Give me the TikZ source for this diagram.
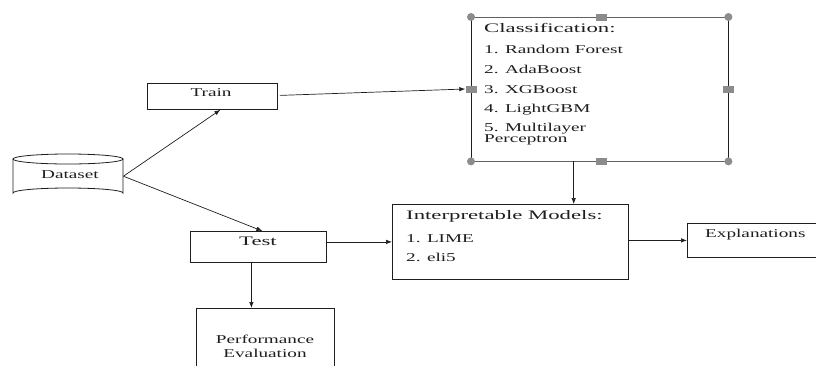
\documentclass[tikz,border=0pt]{standalone}
\usepackage{fontspec}
\setmainfont{Liberation Serif}[FakeStretch=1.6]
\newfontfamily\headfont{Liberation Serif}[FakeStretch=1.75]
\usetikzlibrary{arrows.meta,calc}
\definecolor{hnd}{HTML}{8C8C8C}
\definecolor{ink}{HTML}{1E1E1E}
\tikzset{
  box/.style={draw=ink,line width=0.8pt,inner sep=0pt,anchor=north west},
  txt/.style={inner sep=0pt,text=ink,font=\fontsize{12}{14}\selectfont},
  head/.style={inner sep=0pt,text=ink,font=\headfont\fontsize{13}{15}\selectfont},
  arr/.style={draw=ink,line width=0.7pt,-{Latex[length=6pt,width=4.5pt]}},
  hcirc/.style={circle,fill=hnd,minimum size=8pt,inner sep=0pt},
  hsq/.style={rectangle,fill=hnd,minimum width=11pt,minimum height=7pt,inner sep=0pt}
}
\begin{document}
\begin{tikzpicture}[x=1pt,y=-1pt]
\useasboundingbox (0,0) rectangle (816,365);
\clip (0,0) rectangle (816,365);
% Dataset (cylinder)
\node[inner sep=0pt,minimum width=110pt,minimum height=44pt,anchor=north west] (data) at (13,154) {};
\draw[ink,line width=0.8pt,fill=white] (13,159) -- (13,193) arc[start angle=180,end angle=360,x radius=55,y radius=5] -- (123,159);
\draw[ink,line width=0.8pt] (68,159) ellipse[x radius=55,y radius=5];
\node[txt,anchor=base] (datat) at (70,178) {Dataset};
% Train
\node[box,minimum width=130pt,minimum height=26pt] (train) at (147,83) {};
\node[txt,anchor=base] (traint) at (211,96) {Train};
% Test
\node[box,minimum width=136pt,minimum height=31pt] (test) at (190,231) {};
\node[head,anchor=base] (testt) at (258,245) {Test};
% Performance Evaluation
\node[box,minimum width=138pt,minimum height=70pt] (perf) at (196,308) {};
\node[txt,anchor=base] (perft1) at (265,343) {Performance};
\node[txt,anchor=base] (perft2) at (265,357) {Evaluation};
% Classification
\node[inner sep=0pt,minimum width=257pt,minimum height=144pt,anchor=north west] (cls) at (471,17) {};
\draw[hnd!70!black,line width=0.8pt] (cls.north west) -- (cls.north east);
\draw[hnd!70!black,line width=0.8pt] (cls.south west) -- (cls.south east);
\draw[ink,line width=0.9pt] (cls.north west) -- (cls.south west);
\draw[ink,line width=0.9pt] (cls.north east) -- (cls.south east);
\node[hcirc] (c1) at (cls.north west) {};
\node[hcirc] (c2) at (cls.north east) {};
\node[hcirc] (c3) at (cls.south west) {};
\node[hcirc] (c4) at (cls.south east) {};
\node[hsq] (sqt) at (601,17) {};
\node[hsq] (sqb) at (601,161) {};
\node[hsq] (sql) at (471,89) {};
\node[hsq] (sqr) at (728,89) {};
\node[head,anchor=base west] (cl0) at (484,32) {Classification:};
\node[txt,anchor=base west] (cl1) at (484,53) {1. Random Forest};
\node[txt,anchor=base west] (cl2) at (484,73) {2. AdaBoost};
\node[txt,anchor=base west] (cl3) at (484,93) {3. XGBoost};
\node[txt,anchor=base west] (cl4) at (484,112) {4. LightGBM};
\node[txt,anchor=base west] (cl5) at (484,131) {5. Multilayer};
\node[txt,anchor=base west] (cl6) at (484,142) {Perceptron};
% Interpretable Models
\node[box,minimum width=236pt,minimum height=75pt] (interp) at (392,204) {};
\node[head,anchor=base west] (in0) at (406,219) {Interpretable Models:};
\node[txt,anchor=base west] (in1) at (406,242) {1. LIME};
\node[txt,anchor=base west] (in2) at (406,261) {2. eli5};
% Explanations
\node[box,minimum width=140pt,minimum height=34pt] (expl) at (687,223) {};
\node[txt,anchor=base west] (explt) at (705,237) {Explanations};
% Connectors
\coordinate (tsrc) at ($(test.south)+(-7,0)$);
\coordinate (csrc) at ($(cls.south)+(-26,0)$);
\coordinate (trsrc) at ($(train.east)+(2,-1)$);
\draw[arr] (data.east) -- ($(train.south)+(8,0)$);
\draw[arr] (data.east) -- ($(test.north)+(4,0)$);
\draw[arr] (trsrc) -- (sql.west);
\draw[arr] (test.east |- interp.west) -- (interp.west);
\draw[arr] (tsrc) -- (tsrc |- perf.north);
\draw[arr] (csrc) -- (csrc |- interp.north);
\draw[arr] (interp.east |- expl.west) -- (expl.west);
\end{tikzpicture}
\end{document}
